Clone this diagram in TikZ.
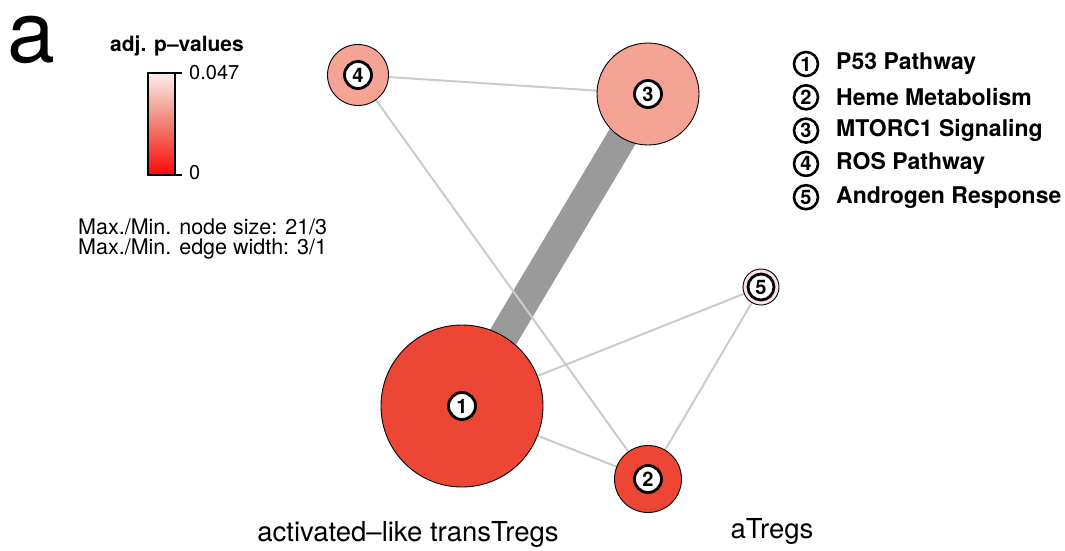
\documentclass[tikz,border=0pt]{standalone}
\usepackage{fontspec}
\setmainfont{TeX Gyre Heros}
\definecolor{dark}{HTML}{EE4634}
\definecolor{mid}{HTML}{F5A394}
\definecolor{light}{HTML}{FBE4E4}
\definecolor{thinedge}{HTML}{CBCBCB}
\definecolor{thickedge}{HTML}{9A9A9A}
\begin{document}
\begin{tikzpicture}[x=1pt,y=-1pt,
  gnode/.style={circle,draw=black,line width=0.9pt,inner sep=0pt},
  tag/.style={circle,draw=black,fill=white,line width=2.8pt,inner sep=0pt,minimum size=27pt,font=\fontsize{20}{20}\selectfont\bfseries},
  ltag/.style={circle,draw=black,fill=white,line width=2.6pt,inner sep=0pt,minimum size=24pt,font=\fontsize{20}{20}\selectfont\bfseries},
  thin/.style={draw=thinedge,line width=2pt},
  ltext/.style={anchor=west,font=\fontsize{23}{23}\selectfont\bfseries,inner sep=0pt}
]
\useasboundingbox (0,0) rectangle (1065,550);
% panel letter
\node[anchor=base west,inner sep=0pt,font=\fontsize{86}{86}\selectfont] (pa) at (7,62) {a};
% colour bar
\node[font=\fontsize{21}{21}\selectfont\bfseries,inner sep=0pt] (cbt) at (177,46) {adj. p\textendash values};
\shade[top color=light!60!white,bottom color=red!90!dark,middle color={rgb,255:red,240;green,128;blue,112}] (148,73) rectangle (175,175);
\node[draw=black,line width=1.2pt,minimum width=27pt,minimum height=102pt,inner sep=0pt] (cbar) at (161.5,124) {};
\draw[line width=1.2pt] (175,73) -- (182,73);
\draw[line width=1.2pt] (175,175) -- (182,175);
\node[anchor=west,font=\fontsize{20}{20}\selectfont,inner sep=0pt] (hi) at (189,73) {0.047};
\node[anchor=west,font=\fontsize{20}{20}\selectfont,inner sep=0pt] (lo) at (189,173) {0};
\node[anchor=west,align=left,font=\fontsize{21.5}{20}\selectfont,inner sep=0pt] (info) at (78,239) {Max./Min. node size: 21/3\\Max./Min. edge width: 3/1};
% graph node positions
\coordinate (n1) at (462,406);
\coordinate (n2) at (648,479);
\coordinate (n3) at (648,94);
\coordinate (n4) at (358,75);
\coordinate (n5) at (761,287);
% edges
\draw[draw=thickedge,line width=30pt] (n1) -- (n3);
\draw[thin] (n4) -- (n3);
\draw[thin] (n4) -- (n2);
\draw[thin] (n1) -- (n5);
\draw[thin] (n1) -- (n2);
\draw[thin] (n5) -- (n2);
% nodes on top
\node[gnode,fill=dark,minimum size=162pt] (c1) at (n1) {};
\node[gnode,fill=dark,minimum size=67pt] (c2) at (n2) {};
\node[gnode,fill=mid,minimum size=102pt] (c3) at (n3) {};
\node[gnode,fill=mid,minimum size=61pt] (c4) at (n4) {};
\node[gnode,fill=light,minimum size=36pt] (c5) at (n5) {};
\node[tag] (t1) at (n1) {1};
\node[tag] (t2) at (n2) {2};
\node[tag] (t3) at (n3) {3};
\node[tag] (t4) at (n4) {4};
\node[tag,minimum size=26pt] (t5) at (n5) {5};
% group labels
\node[font=\fontsize{27.5}{27.5}\selectfont,inner sep=0pt] (g1) at (408,534) {activated\textendash like transTregs};
\node[font=\fontsize{27.5}{27.5}\selectfont,inner sep=0pt] (g2) at (772,531) {aTregs};
% legend
\foreach \i/\t [count=\k] in {1/P53 Pathway,2/Heme Metabolism,3/MTORC1 Signaling,4/ROS Pathway,5/Androgen Response}{
  \node[ltag] (l\i) at (806,{64+33.3*(\k-1)}) {\i};
  \node[ltext] (lt\i) at (836,{64+33.3*(\k-1)}) {\t};
}
\end{tikzpicture}
\end{document}
